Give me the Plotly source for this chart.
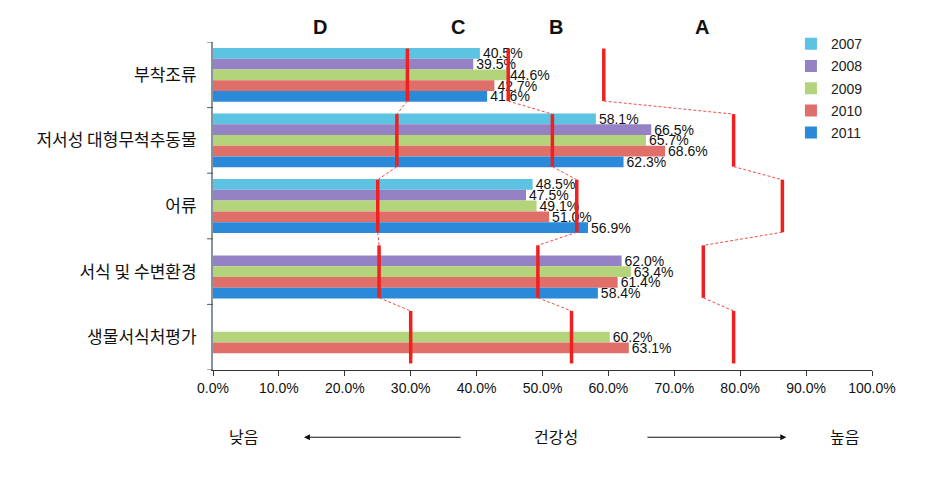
import plotly.graph_objects as go

categories = ["부착조류", "저서성 대형무척추동물", "어류", "서식 및 수변환경", "생물서식처평가"]
years = ["2007", "2008", "2009", "2010", "2011"]
values = {
    "2007": [40.5, 58.1, 48.5, None, None],
    "2008": [39.5, 66.5, 47.5, 62.0, None],
    "2009": [44.6, 65.7, 49.1, 63.4, 60.2],
    "2010": [42.7, 68.6, 51.0, 61.4, 63.1],
    "2011": [41.6, 62.3, 56.9, 58.4, None],
}
colors = {
    "2007": "#5CC3E3",
    "2008": "#9482C4",
    "2009": "#B4D47B",
    "2010": "#E06F69",
    "2011": "#2B89D9",
}
# grade boundaries (D|C, C|B, B|A) for each category
boundary_dc = [29.5, 27.9, 25.0, 25.2, 30.0]
boundary_cb = [44.8, 51.5, 55.2, 49.3, 54.4]
boundary_ba = [59.3, 79.0, 86.4, 74.4, 79.0]
grades = ["D", "C", "B", "A"]
grade_pos = [16.2, 37.2, 52.1, 74.2]
x_ticks = [0, 10, 20, 30, 40, 50, 60, 70, 80, 90, 100]
x_tick_text = [f"{t:.1f}%" for t in x_ticks]

ypos = list(range(len(categories)))

fig = go.Figure()
for yr in years:
    fig.add_trace(go.Bar(
        y=ypos, x=values[yr], orientation="h", name=yr,
        legendgroup=yr,
        marker=dict(color=colors[yr], line=dict(width=0)),
        text=[None if v is None else f"{v:.1f}%" for v in values[yr]],
        textposition="outside", textangle=0, constraintext="none",
        textfont=dict(family="Liberation Sans, Arial", size=14, color="#111111"),
        cliponaxis=False,
    ))

half = 0.40
for bnd in (boundary_dc, boundary_cb, boundary_ba):
    for i, v in enumerate(bnd):
        fig.add_trace(go.Scatter(
            x=[v, v], y=[i - half, i + half], mode="lines",
            line=dict(color="#F02020", width=3.5), showlegend=False, hoverinfo="skip"))
    for i in range(len(bnd) - 1):
        fig.add_trace(go.Scatter(
            x=[bnd[i], bnd[i + 1]], y=[i + half, i + 1 - half], mode="lines",
            line=dict(color="#E85050", width=1, dash="3px,2px"), showlegend=False, hoverinfo="skip"))

shapes = []
for b in [k - 0.5 for k in range(len(categories) + 1)]:
    shapes.append(dict(type="line", xref="paper", yref="y", x0=-0.009, x1=0, y0=b, y1=b,
                       line=dict(color="#555555", width=1)))

annotations = []
for g, p in zip(grades, grade_pos):
    annotations.append(dict(x=p, y=1.045, xref="x", yref="paper", text=f"<b>{g}</b>", showarrow=False,
                            font=dict(family="Liberation Sans, Arial", size=20, color="#111111"),
                            xanchor="center", yanchor="middle"))
kfont = dict(family="Noto Sans CJK KR", size=16, color="#111111")
annotations += [
    dict(x=4.6, y=-0.2, xref="x", yref="paper", text="낮음", showarrow=False, font=kfont,
         xanchor="center", yanchor="middle"),
    dict(x=52.0, y=-0.2, xref="x", yref="paper", text="건강성", showarrow=False, font=kfont,
         xanchor="center", yanchor="middle"),
    dict(x=95.9, y=-0.2, xref="x", yref="paper", text="높음", showarrow=False, font=kfont,
         xanchor="center", yanchor="middle"),
    dict(x=13.8, y=-0.205, xref="x", yref="paper", ax=37.8, ay=0, axref="x", ayref="pixel",
         text="", showarrow=True, arrowhead=2, arrowsize=1.2, arrowwidth=1, arrowcolor="#111111"),
    dict(x=87.0, y=-0.205, xref="x", yref="paper", ax=65.7, ay=0, axref="x", ayref="pixel",
         text="", showarrow=True, arrowhead=2, arrowsize=1.2, arrowwidth=1, arrowcolor="#111111"),
]

fig.update_layout(
    width=921, height=475,
    margin=dict(l=205, r=57, t=34, b=113),
    paper_bgcolor="white", plot_bgcolor="white",
    barmode="group", bargap=0.18, bargroupgap=0,
    showlegend=True,
    legend=dict(x=0.877, y=1.042, xanchor="left", yanchor="top",
                font=dict(family="Liberation Sans, Arial", size=14, color="#222222"),
                tracegroupgap=1, itemwidth=30, bgcolor="rgba(0,0,0,0)"),
    xaxis=dict(range=[0, 100], tickvals=x_ticks, ticktext=x_tick_text,
               showgrid=False, zeroline=False, showline=True, linecolor="#333333", linewidth=1,
               ticks="outside", ticklen=5, tickcolor="#333333",
               tickfont=dict(family="Liberation Sans, Arial", size=14, color="#111111")),
    yaxis=dict(range=[4.5, -0.5], tickvals=ypos, ticktext=categories,
               showgrid=False, zeroline=False, showline=True, linecolor="#8594A0", linewidth=2,
               ticks="outside", ticklen=11, tickcolor="rgba(0,0,0,0)",
               tickfont=dict(family="Noto Sans CJK KR", size=17, color="#111111")),
    shapes=shapes, annotations=annotations,
)

fig.write_html("out.html")
